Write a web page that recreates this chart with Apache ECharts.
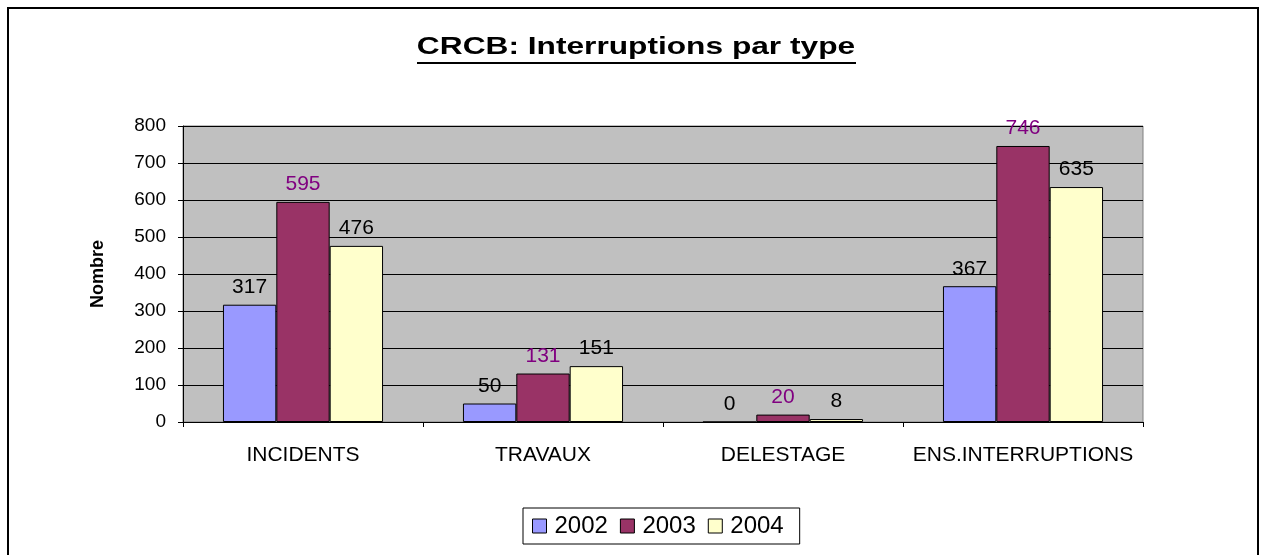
<!DOCTYPE html>
<html>
<head>
<meta charset="utf-8">
<title>CRCB: Interruptions par type</title>
<script src="https://cdn.jsdelivr.net/npm/echarts@6/dist/echarts.min.js"></script>
<style>
  html, body { margin: 0; padding: 0; background: #fff; }
  #chart { width: 1265px; height: 555px; }
</style>
</head>
<body>
<div id="chart"></div>
<script>
// Interruption counts by type, per year
const categories = ['INCIDENTS', 'TRAVAUX', 'DELESTAGE', 'ENS.INTERRUPTIONS'];
const years = ['2002', '2003', '2004'];
const values2002 = [317, 50, 0, 367];
const values2003 = [595, 131, 20, 746];
const values2004 = [476, 151, 8, 635];
const yTicks = [0, 100, 200, 300, 400, 500, 600, 700, 800];

const FONT = '"Liberation Sans", Arial, sans-serif';
const colors = ['#9999FF', '#993366', '#FFFFCC'];
const labelColors = ['#000000', '#800080', '#000000'];

const chart = echarts.init(document.getElementById('chart'));

function barSeries(idx, data) {
  return {
    name: years[idx],
    type: 'bar',
    data: data,
    barGap: '0%',
    barCategoryGap: '33.3%',
    itemStyle: { color: colors[idx], borderColor: '#000', borderWidth: 1 },
    label: {
      show: true,
      position: 'top',
      distance: 7,
      color: labelColors[idx],
      fontFamily: FONT,
      fontSize: 21
    },
    emphasis: { disabled: true }
  };
}

chart.setOption({
  animation: false,
  backgroundColor: '#fff',
  textStyle: { fontFamily: FONT },
  grid: {
    left: 183, right: 122, top: 126, bottom: 133,
    show: true,
    backgroundColor: '#C0C0C0',
    borderColor: '#808080',
    borderWidth: 1
  },
  legend: {
    data: years,
    bottom: 11,
    left: 523,
    orient: 'horizontal',
    borderColor: '#000',
    borderWidth: 1,
    padding: [6, 16, 6, 9],
    itemGap: 12,
    itemWidth: 14,
    itemHeight: 14,
    icon: 'rect',
    itemStyle: { borderColor: '#000', borderWidth: 1 },
    textStyle: { fontFamily: FONT, fontSize: 24, color: '#000', padding: [0, 0, 0, 3] }
  },
  xAxis: {
    type: 'category',
    data: categories,
    axisLine: { lineStyle: { color: '#000', width: 1 } },
    axisTick: { show: true, interval: 0, alignWithLabel: false, length: 5, lineStyle: { color: '#000' } },
    axisLabel: { interval: 0, color: '#000', fontFamily: FONT, fontSize: 21, margin: 23 },
    splitLine: { show: false }
  },
  yAxis: {
    type: 'value',
    min: yTicks[0],
    max: yTicks[yTicks.length - 1],
    interval: 100,
    name: 'Nombre',
    nameLocation: 'middle',
    nameRotate: 90,
    nameGap: 76,
    nameTextStyle: { color: '#000', fontFamily: FONT, fontSize: 18, fontWeight: 'bold' },
    axisLine: { show: true, lineStyle: { color: '#000', width: 1 } },
    axisTick: { show: true, length: 5, lineStyle: { color: '#000' } },
    axisLabel: { color: '#000', fontFamily: FONT, fontSize: 19, margin: 17 },
    splitLine: { show: true, lineStyle: { color: '#000', width: 1 } }
  },
  series: [
    barSeries(0, values2002),
    barSeries(1, values2003),
    barSeries(2, values2004)
  ],
  graphic: [
    {
      // outer chart frame
      type: 'rect',
      silent: true,
      shape: { x: 8, y: 8, width: 1250, height: 560 },
      style: { fill: 'none', stroke: '#000', lineWidth: 2 },
      z: 100
    },
    {
      // title, set in a wide bold face
      type: 'text',
      silent: true,
      x: 636,
      y: 47,
      scaleX: 1.32,
      style: {
        text: 'CRCB: Interruptions par type',
        font: 'bold 24px ' + FONT,
        fill: '#000',
        textAlign: 'center',
        textVerticalAlign: 'middle'
      }
    },
    {
      // title underline
      type: 'rect',
      silent: true,
      shape: { x: 417, y: 62, width: 439, height: 2 },
      style: { fill: '#000' }
    }
  ]
});
</script>
</body>
</html>
